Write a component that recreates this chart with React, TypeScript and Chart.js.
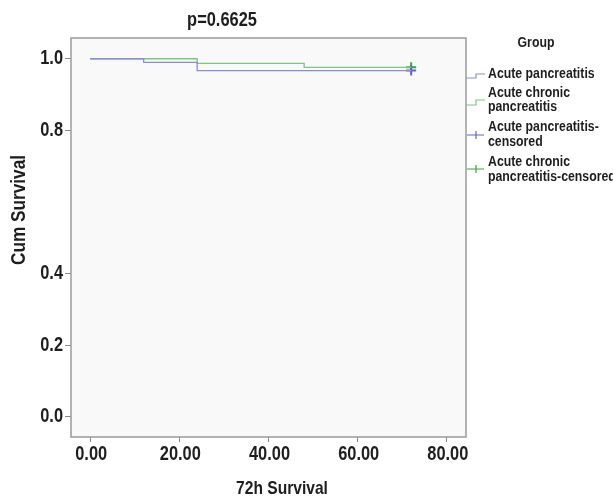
import { useEffect, useRef } from 'react';
import { Chart, registerables } from 'chart.js';

Chart.register(...registerables);

// ---- data ----
const TITLE = 'p=0.6625';
const X_TITLE = '72h Survival';
const Y_TITLE = 'Cum Survival';
const LEGEND_TITLE = 'Group';
const X_TICKS = [0, 20, 40, 60, 80];
const Y_TICKS = [0, 0.2, 0.4, 0.8, 1.0];

const acuteTimes = [0, 12, 24, 72];
const acuteSurv = [1.0, 0.99, 0.967, 0.967];
const chronicTimes = [0, 24, 48, 72];
const chronicSurv = [1.0, 0.987, 0.976, 0.976];
const acuteCensorTimes = [72];
const acuteCensorSurv = [0.967];
const chronicCensorTimes = [72];
const chronicCensorSurv = [0.976];

const LEGEND_LABELS = [
  ['Acute pancreatitis'],
  ['Acute chronic', 'pancreatitis'],
  ['Acute pancreatitis-', 'censored'],
  ['Acute chronic', 'pancreatitis-censored'],
];

const BLUE = 'rgb(140,140,218)';
const GREEN = 'rgb(120,202,120)';
const BLUE_MARK = 'rgb(100,100,205)';
const GREEN_MARK = 'rgb(50,170,50)';

const FONT = '"Liberation Sans", Arial, sans-serif';
const NARROW = 0.82;

const toPts = (xs: number[], ys: number[]) => xs.map((x, i) => ({ x, y: ys[i] }));

function narrowText(
  ctx: CanvasRenderingContext2D,
  text: string,
  x: number,
  y: number,
  size: number,
  align: CanvasTextAlign = 'center',
  rotate = 0,
) {
  ctx.save();
  ctx.translate(x, y);
  if (rotate) ctx.rotate(rotate);
  ctx.scale(NARROW, 1);
  ctx.font = `bold ${size}px ${FONT}`;
  ctx.textAlign = align;
  ctx.textBaseline = 'middle';
  ctx.fillText(text, 0, 0);
  ctx.restore();
}

const decorPlugin = {
  id: 'decor',
  beforeDraw(chart: any) {
    const { ctx, chartArea: a, width, height } = chart;
    ctx.save();
    ctx.fillStyle = '#ffffff';
    ctx.fillRect(0, 0, width, height);
    ctx.fillStyle = '#f9f9f9';
    ctx.fillRect(a.left, a.top, a.right - a.left, a.bottom - a.top);
    ctx.restore();
  },
  afterDraw(chart: any) {
    const { ctx, chartArea: a } = chart;
    const xs = chart.scales.x;
    const ys = chart.scales.y;
    ctx.save();
    // frame
    ctx.strokeStyle = '#9a9a9a';
    ctx.lineWidth = 1.5;
    ctx.strokeRect(a.left, a.top, a.right - a.left, a.bottom - a.top);

    ctx.fillStyle = '#1e1e1e';
    // tick labels
    xs.ticks.forEach((t: any) => {
      narrowText(ctx, Number(t.value).toFixed(2), xs.getPixelForValue(t.value) + 1, 454, 20);
    });
    ys.ticks.forEach((t: any) => {
      narrowText(ctx, Number(t.value).toFixed(1), 63, ys.getPixelForValue(t.value), 20, 'right');
    });
    // titles
    narrowText(ctx, TITLE, 222, 20, 20);
    narrowText(ctx, X_TITLE, 282, 489, 19);
    narrowText(ctx, Y_TITLE, 19, 210, 21, 'center', -Math.PI / 2);

    // legend
    narrowText(ctx, LEGEND_TITLE, 536, 43, 15);
    const lineY = [[74], [93, 107], [127, 142], [162, 177]];
    LEGEND_LABELS.forEach((lines, i) => {
      lines.forEach((t, j) => narrowText(ctx, t, 488, lineY[i][j], 15, 'left'));
    });
    ctx.lineWidth = 1.2;
    // blue step
    ctx.strokeStyle = BLUE;
    ctx.beginPath();
    ctx.moveTo(466, 78); ctx.lineTo(476, 78); ctx.lineTo(476, 74); ctx.lineTo(485, 74);
    ctx.stroke();
    // green step
    ctx.strokeStyle = GREEN;
    ctx.beginPath();
    ctx.moveTo(466, 105); ctx.lineTo(476, 105); ctx.lineTo(476, 100); ctx.lineTo(485, 100);
    ctx.stroke();
    // blue censored
    ctx.strokeStyle = BLUE_MARK;
    ctx.beginPath();
    ctx.moveTo(467, 135); ctx.lineTo(484, 135); ctx.moveTo(476, 131); ctx.lineTo(476, 139);
    ctx.stroke();
    // green censored
    ctx.strokeStyle = GREEN_MARK;
    ctx.beginPath();
    ctx.moveTo(467, 169); ctx.lineTo(484, 169); ctx.moveTo(476, 165); ctx.lineTo(476, 173);
    ctx.stroke();
    ctx.restore();
  },
};

export default function App() {
  const ref = useRef<HTMLCanvasElement>(null);
  useEffect(() => {
    const canvas = ref.current!;
    const chart = new Chart(canvas, {
      type: 'scatter',
      data: {
        datasets: [
          {
            label: 'Acute pancreatitis',
            data: toPts(acuteTimes, acuteSurv),
            showLine: true,
            stepped: true,
            borderColor: BLUE,
            borderWidth: 1.3,
            pointRadius: 0,
            fill: false,
          },
          {
            label: 'Acute chronic pancreatitis',
            data: toPts(chronicTimes, chronicSurv),
            showLine: true,
            stepped: true,
            borderColor: GREEN,
            borderWidth: 1.3,
            pointRadius: 0,
            fill: false,
          },
          {
            label: 'Acute pancreatitis-censored',
            data: toPts(acuteCensorTimes, acuteCensorSurv),
            showLine: false,
            pointStyle: 'cross',
            pointRadius: 5,
            borderColor: BLUE_MARK,
            borderWidth: 2,
          },
          {
            label: 'Acute chronic pancreatitis-censored',
            data: toPts(chronicCensorTimes, chronicCensorSurv),
            showLine: false,
            pointStyle: 'cross',
            pointRadius: 5,
            borderColor: GREEN_MARK,
            borderWidth: 2,
          },
        ],
      },
      options: {
        animation: false,
        responsive: false,
        devicePixelRatio: 1,
        layout: { padding: { left: 0, right: 147, top: 38, bottom: 0 } },
        plugins: { legend: { display: false }, tooltip: { enabled: false }, title: { display: false } },
        scales: {
          x: {
            type: 'linear',
            min: -4.3,
            max: 84.3,
            afterBuildTicks: (s: any) => { s.ticks = X_TICKS.map((v) => ({ value: v })); },
            afterFit: (s: any) => { s.height = 62; },
            grid: { drawOnChartArea: false, drawTicks: true, tickLength: 5, tickColor: '#888' },
            border: { display: false },
            ticks: { display: false },
          },
          y: {
            type: 'linear',
            min: -0.057,
            max: 1.058,
            afterBuildTicks: (s: any) => { s.ticks = Y_TICKS.map((v) => ({ value: v })); },
            afterFit: (s: any) => { s.width = 71; },
            grid: { drawOnChartArea: false, drawTicks: true, tickLength: 6, tickColor: '#888' },
            border: { display: false },
            ticks: { display: false },
          },
        },
      },
      plugins: [decorPlugin],
    } as any);
    return () => chart.destroy();
  }, []);
  return (
    <div style={{ position: 'absolute', left: 0, top: 0, width: 613, height: 499, background: '#fff' }}>
      <canvas ref={ref} width={613} height={499} style={{ width: 613, height: 499, display: 'block' }} />
    </div>
  );
}
